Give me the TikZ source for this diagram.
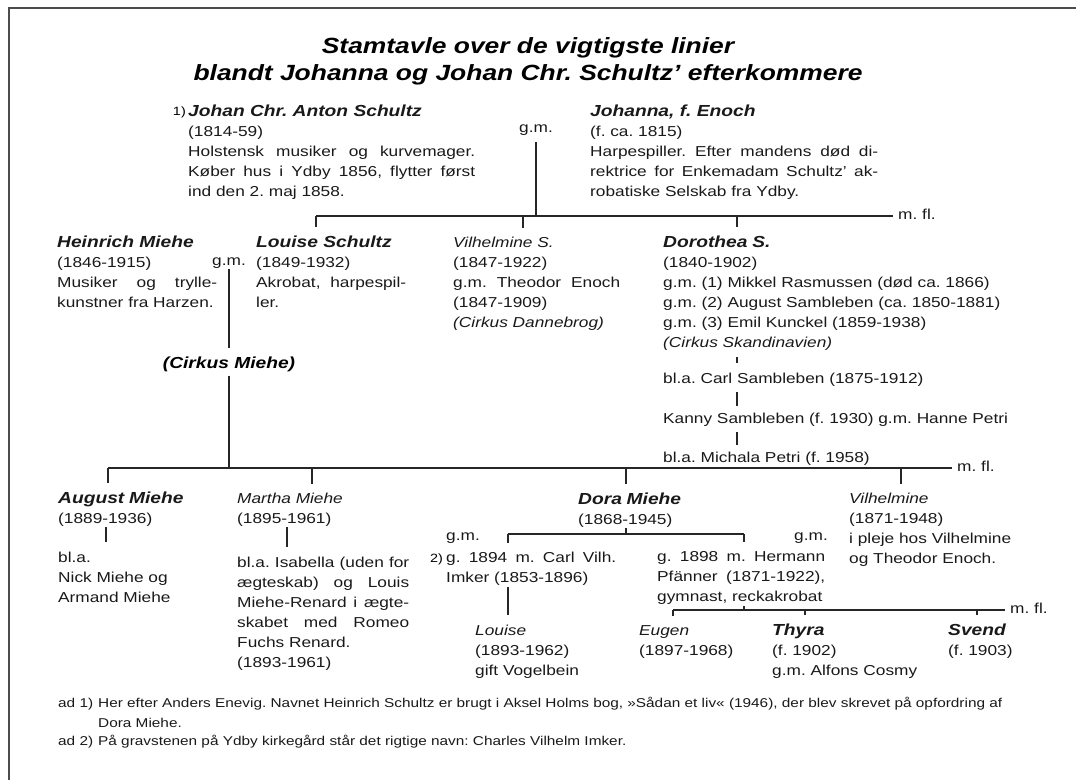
\documentclass[tikz,border=0pt]{standalone}
\usepackage{fontspec}
\setmainfont{Liberation Sans}[FakeStretch=1.2]
\usetikzlibrary{positioning}
\frenchspacing
\hyphenpenalty=10000
\exhyphenpenalty=10000
\tolerance=9999
\hbadness=10000
\newcommand{\bodyfont}{\fontsize{14.4}{20}\selectfont}
\newcommand{\notefont}{\fontsize{12.8}{20}\selectfont}
\newcommand{\nm}[1]{{\fontsize{16}{20}\selectfont\bfseries\itshape #1}}
\tikzset{%
  line/.style={line width=1.2pt,black!85},
  tick/.style={line,shorten >=8.5pt},
  desc/.style={line,shorten <=6pt,shorten >=6pt},
  frame/.style={line width=2pt,black!70},
  person/.style={anchor=base west,inner sep=0pt,align=left,font=\bodyfont,text=black!90},
  para/.style={person,align=justify},
  gm/.style={anchor=base,inner sep=0pt,font=\bodyfont,text=black!90},
  mfl/.style={anchor=west,inner sep=0pt,font=\bodyfont,text=black!90,yshift=2pt},
  fnmark/.style={anchor=base east,inner sep=0pt,font=\fontsize{12}{20}\selectfont},
  note/.style={anchor=base west,inner sep=0pt,font=\notefont,align=left,text=black!90},
}

\begin{document}
\begin{tikzpicture}[x=1pt,y=-1pt]
  \useasboundingbox (0,0) rectangle (1076,780);
  \draw[frame] (9,780) -- (9,8) -- (1076,8);

  \node[anchor=base,inner sep=0pt,text width=720pt,align=center,font=\fontsize{22}{27}\selectfont\bfseries\itshape] (title) at (528,53) {Stamtavle over de vigtigste linier\\blandt Johanna og Johan Chr. Schultz' efterkommere};

  \node[fnmark] (mark1) at (186,115) {1)};
  \node[para,text width=287pt] (johan) at (188,116) {\nm{Johan Chr. Anton Schultz}\\(1814-59)\\Holstensk musiker og kurvemager.\linebreak Køber hus i Ydby 1856, flytter først\linebreak ind den 2. maj 1858.};
  \node[gm] (gmTop) at (536,132) {g.m.};
  \node[para,text width=288pt] (johanna) at (590,116) {\nm{Johanna, f. Enoch}\\(f. ca. 1815)\\Harpespiller. Efter mandens død di-\linebreak rektrice for Enkemadam Schultz' ak-\linebreak robatiske Selskab fra Ydby.};

  \coordinate (topBarW) at (316,216);
  \coordinate (topBarE) at (893,216);
  \coordinate (tickVilS) at (523,216);
  \coordinate (tickDoro) at (737,216);
  \node[mfl,right=5pt of topBarE] (mflTop) {m. fl.};

  \node[para,text width=160pt] (heinrich) at (57,247) {\nm{Heinrich Miehe}\\(1846-1915)\\Musiker og trylle-\linebreak kunstner fra Harzen.};
  \node[gm] (gmMid) at (229,265) {g.m.};
  \node[para,text width=150pt] (louiseS) at (256,247) {\nm{Louise Schultz}\\(1849-1932)\\Akrobat, harpespil-\linebreak ler.};
  \node[para,text width=167pt] (vilhelmineS) at (453,247) {\textit{Vilhelmine S.}\\(1847-1922)\\g.m. Theodor Enoch\linebreak (1847-1909)\\\textit{(Cirkus Dannebrog)}};
  \node[person,text width=360pt] (dorothea) at (663,247) {\nm{Dorothea S.}\\(1840-1902)\\g.m. (1) Mikkel Rasmussen (død ca. 1866)\\g.m. (2) August Sambleben (ca. 1850-1881)\\g.m. (3) Emil Kunckel (1859-1938)\\\textit{(Cirkus Skandinavien)}};
  \node[person] (carl) at (663,383) {bl.a. Carl Sambleben (1875-1912)};
  \node[person] (kanny) at (663,423) {Kanny Sambleben (f. 1930) g.m. Hanne Petri};
  \node[person] (michala) at (663,462) {bl.a. Michala Petri (f. 1958)};
  \node[anchor=base,inner sep=0pt] (cirkusMiehe) at (229,368) {\nm{(Cirkus Miehe)}};

  \coordinate (midBarW) at (108,468);
  \coordinate (midBarE) at (952,468);
  \coordinate (tickMartha) at (312,468);
  \coordinate (tickDora) at (626,468);
  \coordinate (tickVil) at (901,468);
  \node[mfl,right=5pt of midBarE] (mflMid) {m. fl.};

  \node[person,text width=140pt] (august) at (58,503) {\nm{August Miehe}\\(1889-1936)};
  \node[person,text width=140pt] (augustKids) at (58,562) {bl.a.\\Nick Miehe og\\Armand Miehe};
  \node[person,text width=140pt] (martha) at (237,503) {\textit{Martha Miehe}\\(1895-1961)};
  \node[para,text width=172pt] (marthaKids) at (237,567) {bl.a. Isabella (uden for\linebreak ægteskab) og Louis\linebreak Miehe-Renard i ægte-\linebreak skabet med Romeo\linebreak Fuchs Renard.\\(1893-1961)};
  \node[person,text width=120pt] (dora) at (578,504) {\nm{Dora Miehe}\\(1868-1945)};
  \node[person,text width=170pt] (vilhelmine) at (849,503) {\textit{Vilhelmine}\\(1871-1948)\\i pleje hos Vilhelmine\\og Theodor Enoch.};

  \coordinate (doraBarW) at (508,534);
  \coordinate (doraBarE) at (744,534);
  \coordinate (doraTick) at (626,534);
  \node[gm,anchor=base west] (gmDora1) at (446,540) {g.m.};
  \node[gm,anchor=base east] (gmDora2) at (828,540) {g.m.};
  \node[fnmark] (mark2) at (443,562) {2)};
  \node[para,text width=170pt] (husb1) at (446,562) {g. 1894 m. Carl Vilh.\linebreak Imker (1853-1896)};
  \node[para,text width=168pt] (husb2) at (657,561) {\parfillskip=0pt g. 1898 m. Hermann\linebreak Pfänner (1871-1922),\linebreak gymnast, reckakrobat};

  \coordinate (kidsBarW) at (673,610);
  \coordinate (kidsBarE) at (1005,610);
  \coordinate (kidsTick) at (744,610);
  \coordinate (tickThyra) at (805,610);
  \coordinate (tickSvend) at (977,610);
  \node[mfl,right=5pt of kidsBarE] (mflKids) {m. fl.};

  \node[person,text width=120pt] (louiseC) at (475,635) {\textit{Louise}\\(1893-1962)\\gift Vogelbein};
  \node[person,text width=120pt] (eugen) at (639,635) {\textit{Eugen}\\(1897-1968)};
  \node[person,text width=150pt] (thyra) at (772,635) {\nm{Thyra}\\(f. 1902)\\g.m. Alfons Cosmy};
  \node[person,text width=80pt] (svend) at (948,635) {\nm{Svend}\\(f. 1903)};

  \node[note] (ad1) at (58,707) {ad 1)};
  \node[note,text width=975pt] (note1) at (98,707) {Her efter Anders Enevig. Navnet Heinrich Schultz er brugt i Aksel Holms bog, »Sådan et liv« (1946), der blev skrevet på opfordring af\\Dora Miehe.};
  \node[note] (ad2) at (58,745) {ad 2)};
  \node[note] (note2) at (98,745) {På gravstenen på Ydby kirkegård står det rigtige navn: Charles Vilhelm Imker.};

  \draw[line,shorten <=7pt] (gmTop.south) -- (gmTop.south |- topBarW);
  \draw[line] (topBarW) -- (topBarE);
  \draw[tick] (topBarW) -- (topBarW |- louiseS.north);
  \draw[tick] (tickVilS) -- (tickVilS |- vilhelmineS.north);
  \draw[tick] (tickDoro) -- (tickDoro |- dorothea.north);

  \draw[line,shorten <=7pt,shorten >=9.5pt] (dorothea.south -| tickDoro) -- (carl.north -| tickDoro);
  \draw[desc] (carl.south -| tickDoro) -- (kanny.north -| tickDoro);
  \draw[desc] (kanny.south -| tickDoro) -- (michala.north -| tickDoro);

  \draw[line,shorten <=1pt,shorten >=8pt] (gmMid.south) -- (cirkusMiehe.north);
  \draw[line,shorten <=4pt] (cirkusMiehe.south) -- (cirkusMiehe.south |- midBarW);
  \draw[line] (midBarW) -- (midBarE);
  \draw[tick] (midBarW) -- (midBarW |- august.north);
  \draw[tick] (tickMartha) -- (tickMartha |- martha.north);
  \draw[tick] (tickDora) -- (tickDora |- dora.north);
  \draw[tick] (tickVil) -- (tickVil |- vilhelmine.north);

  \draw[line,shorten <=1pt,shorten >=9pt] ([xshift=48pt]august.south west) -- ([xshift=48pt]august.south west |- augustKids.north);
  \draw[line,shorten <=1pt,shorten >=9pt] ([xshift=50pt]martha.south west) -- ([xshift=50pt]martha.south west |- marthaKids.north);

  \draw[line,shorten <=1pt] (dora.south -| doraTick) -- (doraTick);
  \draw[line] (doraBarW) -- (doraBarE);
  \draw[tick] (doraBarW) -- (doraBarW |- husb1.north);
  \draw[tick] (doraBarE) -- (doraBarE |- husb2.north);
  \draw[line,shorten <=2pt,shorten >=9pt] (husb1.south -| doraBarW) -- (louiseC.north -| doraBarW);
  \draw[line,shorten <=2pt] (husb2.south -| kidsTick) -- (kidsTick);
  \draw[line] (kidsBarW) -- (kidsBarE);
  \draw[tick] (kidsBarW) -- (kidsBarW |- eugen.north);
  \draw[tick] (tickThyra) -- (tickThyra |- thyra.north);
  \draw[tick] (tickSvend) -- (tickSvend |- svend.north);
\end{tikzpicture}
\end{document}
